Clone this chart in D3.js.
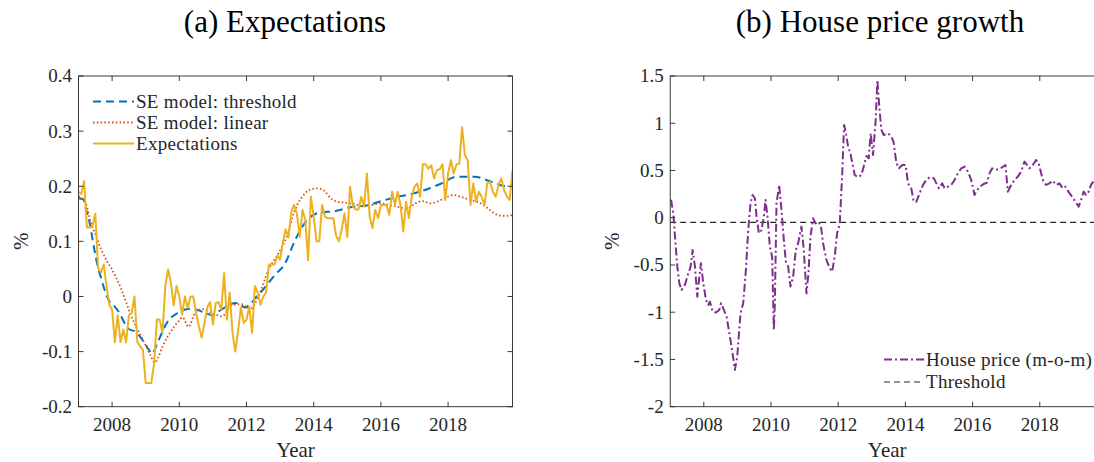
<!DOCTYPE html>
<html><head><meta charset="utf-8">
<script src="https://cdn.jsdelivr.net/npm/d3@7"></script>
<style>
body{margin:0;background:#fff}
svg{display:block}
text{font-family:"Liberation Serif","Times New Roman",serif;fill:#262626}
</style>
</head><body>
<svg id="c" width="1094" height="462"></svg>
<script>
// ---------------- DATA ----------------
const xDomain = [2007, 2019.917];
const xTickValues = [2008, 2010, 2012, 2014, 2016, 2018];
const xTickLabels = ["2008", "2010", "2012", "2014", "2016", "2018"];

const leftYTickValues = [-0.2, -0.1, 0, 0.1, 0.2, 0.3, 0.4];
const leftYTickLabels = ["-0.2", "-0.1", "0", "0.1", "0.2", "0.3", "0.4"];
const rightYTickValues = [-2, -1.5, -1, -0.5, 0, 0.5, 1, 1.5];
const rightYTickLabels = ["-2", "-1.5", "-1", "-0.5", "0", "0.5", "1", "1.5"];

// Expectations: monthly, Jan 2007 - Dec 2019
const expectations = [
 0.19, 0.186, 0.209, 0.125, 0.125, 0.128, 0.15, 0.052, 0.043, 0.058, 0.019, -0.015,
 -0.024, -0.083, -0.034, -0.083, -0.06, -0.083, -0.034, -0.03, 0.0, -0.083, -0.09, -0.097,
 -0.157, -0.157, -0.157, -0.121, -0.042, -0.042, -0.066, 0.019, 0.049, 0.025, -0.016, 0.019,
 0.0, -0.033, 0.0, -0.021, 0.0, 0.0, -0.03, -0.054, -0.075, -0.048, -0.02, -0.01,
 -0.051, -0.012, -0.01, -0.024, 0.042, -0.042, 0.007, -0.066, -0.1, -0.063, -0.02, -0.048,
 -0.042, -0.018, -0.066, 0.019, 0.007, -0.015, 0.0, 0.007, 0.058, 0.058, 0.058, 0.074,
 0.067, 0.098, 0.122, 0.107, 0.153, 0.166, 0.15, 0.108, 0.157, 0.139, 0.066, 0.181,
 0.145, 0.1, 0.1, 0.166, 0.145, 0.142, 0.142, 0.142, 0.11, 0.1, 0.121, 0.151,
 0.108, 0.199, 0.163, 0.158, 0.158, 0.181, 0.163, 0.223, 0.145, 0.124, 0.157, 0.142,
 0.166, 0.166, 0.166, 0.148, 0.19, 0.166, 0.19, 0.166, 0.118, 0.172, 0.142, 0.181,
 0.199, 0.205, 0.181, 0.24, 0.24, 0.232, 0.238, 0.214, 0.229, 0.231, 0.24, 0.175,
 0.223, 0.247, 0.223, 0.24, 0.241, 0.307, 0.257, 0.247, 0.166, 0.205, 0.172, 0.19,
 0.181, 0.166, 0.205, 0.208, 0.19, 0.181, 0.202, 0.214, 0.193, 0.181, 0.175, 0.229
];

// SE model: threshold
const thrYears = [2007.0, 2007.15, 2007.22, 2007.32, 2007.4, 2007.47, 2007.57, 2007.67, 2007.77, 2007.92,
 2008.07, 2008.22, 2008.37, 2008.52, 2008.67, 2008.82, 2008.97, 2009.1, 2009.2, 2009.31,
 2009.46, 2009.61, 2009.76, 2009.9, 2010.1, 2010.4, 2010.7, 2011.0, 2011.1, 2011.3,
 2011.5, 2011.75, 2011.95, 2012.1, 2012.26, 2012.46, 2012.66, 2012.86, 2013.15, 2013.36,
 2013.51, 2013.81, 2014.16, 2014.66, 2015.1, 2015.65, 2016.0, 2016.45, 2016.9, 2017.4,
 2017.8, 2018.25, 2018.8, 2019.2, 2019.7, 2019.917];
const thrValues = [0.178, 0.176, 0.159, 0.137, 0.11, 0.086, 0.055, 0.034, 0.013, -0.009,
 -0.018, -0.03, -0.048, -0.06, -0.063, -0.072, -0.085, -0.097, -0.104, -0.09,
 -0.069, -0.05, -0.038, -0.032, -0.025, -0.022, -0.028, -0.034, -0.03, -0.022,
 -0.014, -0.012, -0.02, -0.015, -0.003, 0.01, 0.025, 0.04, 0.06, 0.09,
 0.11, 0.139, 0.152, 0.155, 0.162, 0.166, 0.173, 0.18, 0.186, 0.195,
 0.205, 0.217, 0.217, 0.21, 0.2, 0.199];

// SE model: linear
const linYears = [2007.0, 2007.22, 2007.37, 2007.52, 2007.67, 2007.82, 2007.97, 2008.12, 2008.27, 2008.42,
 2008.56, 2008.71, 2008.86, 2009.01, 2009.16, 2009.26, 2009.36, 2009.51, 2009.66, 2009.81,
 2009.96, 2010.1, 2010.27, 2010.47, 2010.67, 2010.97, 2011.27, 2011.57, 2011.86, 2012.11,
 2012.36, 2012.66, 2012.96, 2013.26, 2013.36, 2013.51, 2013.66, 2013.86, 2014.11, 2014.31,
 2014.51, 2014.7, 2014.95, 2015.2, 2015.45, 2015.75, 2016.0, 2016.25, 2016.54, 2016.78,
 2017.03, 2017.23, 2017.48, 2017.68, 2017.88, 2018.17, 2018.37, 2018.67, 2018.97, 2019.22,
 2019.47, 2019.72, 2019.917];
const linValues = [0.182, 0.168, 0.134, 0.11, 0.086, 0.067, 0.052, 0.034, 0.014, -0.011,
 -0.034, -0.054, -0.072, -0.09, -0.109, -0.12, -0.112, -0.09, -0.072, -0.058,
 -0.046, -0.038, -0.055, -0.03, -0.023, -0.03, -0.036, -0.016, -0.014, -0.023,
 0.001, 0.049, 0.079, 0.12, 0.142, 0.166, 0.181, 0.193, 0.196, 0.192,
 0.178, 0.172, 0.17, 0.168, 0.164, 0.166, 0.169, 0.166, 0.162, 0.16,
 0.169, 0.173, 0.169, 0.172, 0.178, 0.184, 0.181, 0.175, 0.169, 0.158,
 0.148, 0.146, 0.148];

// House price growth (m-o-m)
const hpYears = [2007.024, 2007.093, 2007.143, 2007.212, 2007.271, 2007.341, 2007.44, 2007.539, 2007.608, 2007.668,
 2007.737, 2007.806, 2007.866, 2007.915, 2007.985, 2008.064, 2008.133, 2008.183, 2008.262, 2008.361,
 2008.46, 2008.51, 2008.579, 2008.678, 2008.777, 2008.856, 2008.926, 2008.995, 2009.054, 2009.094,
 2009.173, 2009.253, 2009.322, 2009.391, 2009.451, 2009.52, 2009.57, 2009.639, 2009.718, 2009.788,
 2009.837, 2009.896, 2009.966, 2010.035, 2010.085, 2010.115, 2010.164, 2010.243, 2010.313, 2010.382,
 2010.441, 2010.511, 2010.58, 2010.659, 2010.738, 2010.808, 2010.907, 2010.976, 2011.056, 2011.115,
 2011.174, 2011.254, 2011.323, 2011.402, 2011.481, 2011.551, 2011.65, 2011.749, 2011.818, 2011.897,
 2011.967, 2012.046, 2012.125, 2012.175, 2012.224, 2012.294, 2012.363, 2012.422, 2012.492, 2012.591,
 2012.69, 2012.759, 2012.838, 2012.908, 2012.967, 2013.037, 2013.116, 2013.166, 2013.215, 2013.285,
 2013.354, 2013.483, 2013.58, 2013.65, 2013.73, 2013.81, 2013.909, 2014.008, 2014.077, 2014.176,
 2014.246, 2014.325, 2014.424, 2014.523, 2014.622, 2014.721, 2014.85, 2014.919, 2014.998, 2015.097,
 2015.167, 2015.266, 2015.365, 2015.464, 2015.563, 2015.662, 2015.761, 2015.86, 2015.959, 2016.058,
 2016.137, 2016.226, 2016.325, 2016.424, 2016.504, 2016.583, 2016.682, 2016.781, 2016.88, 2016.979,
 2017.049, 2017.148, 2017.247, 2017.346, 2017.445, 2017.544, 2017.623, 2017.693, 2017.792, 2017.891,
 2017.97, 2018.039, 2018.109, 2018.188, 2018.287, 2018.386, 2018.485, 2018.584, 2018.683, 2018.762,
 2018.851, 2018.96, 2019.059, 2019.158, 2019.227, 2019.306, 2019.376, 2019.455, 2019.524, 2019.593];
const hpValues = [0.19, 0.047, -0.2, -0.518, -0.694, -0.765, -0.71, -0.588, -0.518, -0.341,
 -0.518, -0.835, -0.623, -0.482, -0.694, -0.87, -0.923, -0.888, -0.994, -1.004,
 -0.976, -0.906, -0.958, -1.047, -1.258, -1.435, -1.611, -1.47, -1.188, -1.011,
 -0.906, -0.553, -0.13, 0.153, 0.241, 0.206, 0.012, -0.165, -0.13, 0.012,
 0.188, 0.012, -0.306, -0.412, -1.188, -0.906, 0.153, 0.347, 0.082, -0.235,
 -0.465, -0.518, -0.729, -0.623, -0.341, -0.271, -0.094, -0.341, -0.8, -0.588,
 -0.2, -0.006, -0.06, -0.041, -0.077, -0.271, -0.447, -0.535, -0.571, -0.412,
 -0.165, -0.066, 0.505, 0.981, 0.911, 0.752, 0.682, 0.576, 0.452, 0.428,
 0.452, 0.541, 0.653, 0.629, 0.893, 0.664, 1.034, 1.458, 1.21, 0.929,
 0.876, 0.893, 0.86, 0.8, 0.58, 0.523, 0.558, 0.558, 0.364, 0.311,
 0.17, 0.17, 0.258, 0.347, 0.4, 0.428, 0.417, 0.364, 0.311, 0.364,
 0.311, 0.329, 0.347, 0.4, 0.47, 0.523, 0.541, 0.488, 0.4, 0.241,
 0.294, 0.329, 0.357, 0.37, 0.47, 0.523, 0.505, 0.516, 0.534, 0.558,
 0.276, 0.347, 0.4, 0.435, 0.488, 0.594, 0.558, 0.523, 0.558, 0.611,
 0.576, 0.47, 0.382, 0.347, 0.364, 0.393, 0.347, 0.364, 0.311, 0.329,
 0.276, 0.223, 0.17, 0.117, 0.188, 0.276, 0.241, 0.276, 0.347, 0.382];

const thresholdValue = -0.05;

const leftTitle = "(a) Expectations";
const rightTitle = "(b) House price growth";
const leftLegend = ["SE model: threshold", "SE model: linear", "Expectations"];
const rightLegend = ["House price (m-o-m)", "Threshold"];

// ---------------- DRAW ----------------
const svg = d3.select("#c");
const AX = "#262626";
const TOP = 76, BOTTOM = 406.7, PW = 434;

function panel(cfg) {
  const x = d3.scaleLinear().domain(xDomain).range([cfg.x0, cfg.x0 + PW]);
  const y = d3.scaleLinear().domain(cfg.yDomain).range([BOTTOM, TOP]);
  const g = svg.append("g");

  const clipId = "clip" + cfg.id;
  svg.append("clipPath").attr("id", clipId).append("rect")
    .attr("x", cfg.x0).attr("y", TOP).attr("width", PW).attr("height", BOTTOM - TOP);

  const lines = g.append("g").attr("clip-path", `url(#${clipId})`);
  cfg.series.forEach(s => {
    lines.append("path")
      .datum(s.data)
      .attr("fill", "none")
      .attr("stroke", s.color)
      .attr("stroke-width", s.width)
      .attr("stroke-dasharray", s.dash)
      .attr("stroke-linejoin", "round")
      .attr("d", d3.line().x(d => x(d[0])).y(d => y(d[1])).curve(s.curve || d3.curveLinear));
  });

  // frame
  const fr = g.append("g").attr("stroke", AX).attr("stroke-width", 0.9).attr("fill", "none");
  fr.append("rect").attr("x", cfg.x0).attr("y", TOP).attr("width", PW).attr("height", BOTTOM - TOP);

  // x ticks (bottom and top, inward)
  const tl = 5;
  xTickValues.forEach(v => {
    const px = x(v);
    fr.append("line").attr("x1", px).attr("x2", px).attr("y1", BOTTOM).attr("y2", BOTTOM - tl);
    fr.append("line").attr("x1", px).attr("x2", px).attr("y1", TOP).attr("y2", TOP + tl);
  });
  cfg.yTicks.forEach(v => {
    const py = y(v);
    fr.append("line").attr("x1", cfg.x0).attr("x2", cfg.x0 + tl).attr("y1", py).attr("y2", py);
    fr.append("line").attr("x1", cfg.x0 + PW).attr("x2", cfg.x0 + PW - tl).attr("y1", py).attr("y2", py);
  });

  // x tick labels
  g.append("g").selectAll("text").data(xTickValues).join("text")
    .attr("x", d => x(d)).attr("y", 430.5)
    .attr("text-anchor", "middle").attr("font-size", 19)
    .text((d, i) => xTickLabels[i]);
  // y tick labels
  g.append("g").selectAll("text").data(cfg.yTicks).join("text")
    .attr("x", cfg.x0 - 6.5).attr("y", d => y(d)).attr("dy", "0.34em")
    .attr("text-anchor", "end").attr("font-size", 19)
    .text((d, i) => cfg.yLabels[i]);

  // axis titles
  g.append("text").attr("x", cfg.x0 + PW / 2).attr("y", 456.5)
    .attr("text-anchor", "middle").attr("font-size", 21).text("Year");
  g.append("text").attr("transform", `translate(${cfg.x0 - 51},${(TOP + BOTTOM) / 2}) rotate(-90)`)
    .attr("text-anchor", "middle").attr("font-size", 21).text("%");

  // title
  svg.append("text").attr("x", cfg.titleX).attr("y", 32)
    .attr("text-anchor", "middle").attr("font-size", 31).style("fill", "#000").text(cfg.title);

  // legend
  const lg = g.append("g");
  cfg.legend.forEach((L, i) => {
    const ly = L.y;
    lg.append("line").attr("x1", L.x1).attr("x2", L.x2).attr("y1", ly).attr("y2", ly)
      .attr("stroke", L.color).attr("stroke-width", L.width).attr("stroke-dasharray", L.dash);
    lg.append("text").attr("x", L.x2 + 2).attr("y", ly).attr("dy", "0.34em")
      .attr("font-size", 19).attr("letter-spacing", 0.3).text(L.label);
  });
  return {x, y};
}

const BLUE = "#0072BD", RED = "#D95319", YEL = "#EDB120", PUR = "#7E2F8E";

panel({
  id: "L", x0: 78.5, yDomain: [-0.2, 0.4], yTicks: leftYTickValues, yLabels: leftYTickLabels,
  title: leftTitle, titleX: 285,
  series: [
    {data: thrYears.map((t, i) => [t, thrValues[i]]), color: BLUE, width: 2, dash: "8,5", curve: d3.curveMonotoneX},
    {data: linYears.map((t, i) => [t, linValues[i]]), color: RED, width: 1.8, dash: "1.6,2.2", curve: d3.curveMonotoneX},
    {data: expectations.map((v, i) => [xDomain[0] + i / 12, v]), color: YEL, width: 2, dash: null}
  ],
  legend: [
    {label: leftLegend[0], color: BLUE, width: 2, dash: "8,5", x1: 93, x2: 134, y: 101.5},
    {label: leftLegend[1], color: RED, width: 1.8, dash: "1.6,2.2", x1: 93, x2: 134, y: 122.5},
    {label: leftLegend[2], color: YEL, width: 2, dash: null, x1: 93, x2: 134, y: 143.5}
  ]
});

panel({
  id: "R", x0: 670.2, yDomain: [-2, 1.5], yTicks: rightYTickValues, yLabels: rightYTickLabels,
  title: rightTitle, titleX: 880,
  series: [
    {data: xDomain.map(t => [t, thresholdValue]), color: AX, width: 1.2, dash: "6,4"},
    {data: hpYears.map((t, i) => [t, hpValues[i]]), color: PUR, width: 2, dash: "8,3,2,3"}
  ],
  legend: [
    {label: rightLegend[0], color: PUR, width: 2, dash: "8,3,2,3", x1: 884, x2: 924, y: 359.5},
    {label: rightLegend[1], color: AX, width: 1.2, dash: "6,4", x1: 884, x2: 924, y: 382}
  ]
});
</script>
</body></html>
